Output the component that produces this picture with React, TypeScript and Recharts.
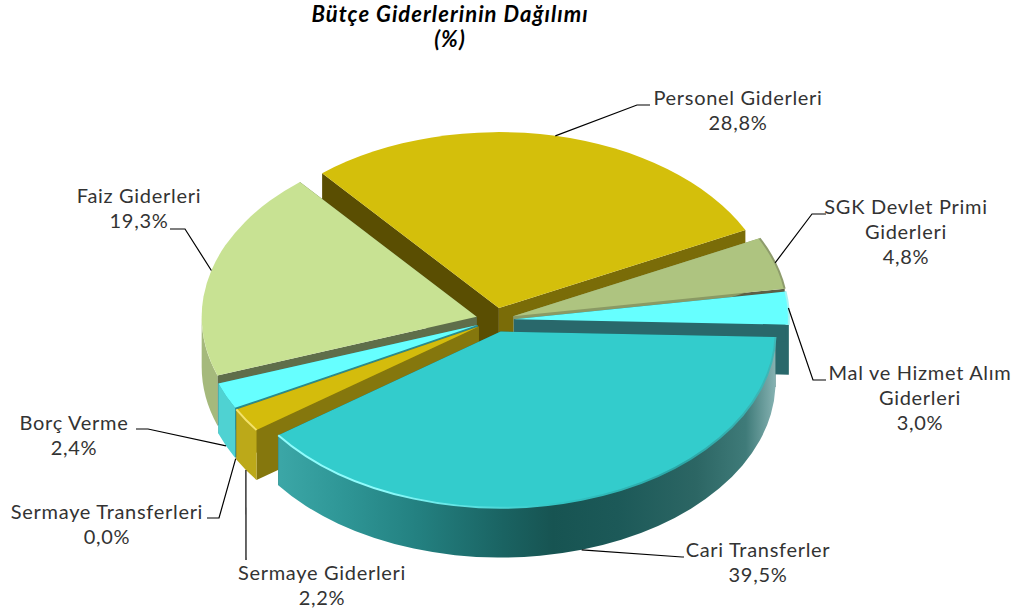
import React from 'react';
import { PieChart, Pie } from 'recharts';

const categories = ['Personel Giderleri', 'SGK Devlet Primi Giderleri', 'Mal ve Hizmet Alım Giderleri', 'Cari Transferler', 'Sermaye Giderleri', 'Sermaye Transferleri', 'Borç Verme', 'Faiz Giderleri'];
const values = [28.8, 4.8, 3.0, 39.5, 2.2, 0.0, 2.4, 19.3];
const valueLabels = ['28,8%', '4,8%', '3,0%', '39,5%', '2,2%', '0,0%', '2,4%', '19,3%'];
const labelLines = [
  ['Personel Giderleri'],
  ['SGK Devlet Primi', 'Giderleri'],
  ['Mal ve Hizmet Alım', 'Giderleri'],
  ['Cari Transferler'],
  ['Sermaye Giderleri'],
  ['Sermaye Transferleri'],
  ['Borç Verme'],
  ['Faiz Giderleri'],
];
const rows = categories.map((name, i) => ({ name, value: values[i] }));

// Back-to-front paint order of the slices
const paintOrder = [0, 1, 2, 7, 6, 5, 4, 3];

const TILT = 0.64;
const DEPTH = 50;
const EXPLODE = 19;
const FONT = 'Lato, sans-serif';

type Stop = [number, string];
const looks: { top: string; startWall: string; endWall: string; arc: Stop[]; rim?: Stop[] }[] = [
  { top: '#d4bf0b', startWall: '#5a4e02', endWall: '#7a6c08', arc: [[0, '#a89a10'], [1, '#a89a10']] },
  { top: '#aec480', startWall: '#8a9a64', endWall: '#5c5f45', arc: [[0, '#8a9a64'], [1, '#8a9a64']], rim: [[0, '#8e9c6c'], [1, '#8e9c6c']] },
  { top: '#66ffff', startWall: '#29686b', endWall: '#29686b', arc: [[0, '#29686b'], [1, '#29686b']], rim: [[0, '#a5f4f4'], [1, '#a5f4f4']] },
  {
    top: '#33cccc', startWall: '#1c5958', endWall: '#1c5958',
    arc: [[0, '#3ba6a6'], [0.12, '#2f9797'], [0.28, '#238080'], [0.45, '#1a6362'], [0.55, '#175452'], [0.68, '#1c5958'], [0.84, '#2c6664'], [0.94, '#3f7b79'], [1, '#86b2b2']],
    rim: [[0, '#8ffcfc'], [0.2, '#8ffcfc'], [0.42, '#52dcdc'], [0.55, '#33c6c6'], [0.8, '#2aa6a6'], [1, '#3db8b8']],
  },
  { top: '#d4bc0c', startWall: '#85770d', endWall: '#85770d', arc: [[0, '#bca919'], [1, '#c8b414']], rim: [[0, '#f4e26a'], [1, '#f4e26a']] },
  { top: '#d4bc0c', startWall: '#85770d', endWall: '#85770d', arc: [[0, '#b9a714'], [1, '#b9a714']] },
  { top: '#66ffff', startWall: '#2b8a8c', endWall: '#2b8a8c', arc: [[0, '#4fd2d2'], [1, '#4fd2d2']] },
  { top: '#c8e293', startWall: '#5f6e4a', endWall: '#5f6e4a', arc: [[0, '#a5b97c'], [1, '#a5b97c']] },
];

// Text anchor and leader-line elbow for each label
const labelLayout = [
  { x: 738, y: 105, ex: 637, ey: 105, tx: 650, ty: 105 },
  { x: 906, y: 214, ex: 812, ey: 214, tx: 826, ty: 214 },
  { x: 920, y: 380, ex: 813, ey: 380, tx: 826, ty: 380 },
  { x: 758, y: 557, ex: 682, ey: 557, tx: 684, ty: 557 },
  { x: 322, y: 580, ex: 246, ey: 560, tx: 246, ty: 560 },
  { x: 107, y: 519, ex: 219, ey: 518, tx: 207, ty: 518 },
  { x: 74, y: 430, ex: 148, ey: 429, tx: 136, ty: 429 },
  { x: 139, y: 203, ex: 185, ey: 229, tx: 170, ty: 229 },
];

const rad = (d: number) => (d * Math.PI) / 180;
const toTheta = (angle: number) => 90 - angle;

function apexOf(cx: number, cy: number, midTheta: number) {
  return {
    x: cx + EXPLODE * Math.sin(rad(midTheta)),
    y: cy - EXPLODE * TILT * Math.cos(rad(midTheta)),
  };
}
function rimPoint(ax: number, ay: number, r: number, theta: number) {
  return { x: ax + r * Math.sin(rad(theta)), y: ay - r * TILT * Math.cos(rad(theta)) };
}
const fx = (n: number) => n.toFixed(2);

function Slice(props: any) {
  const { cx, cy, outerRadius: r, startAngle, endAngle, order } = props;
  const t1 = toTheta(startAngle);
  const t2 = toTheta(endAngle);
  if (Math.abs(t2 - t1) < 0.01) return <g />;
  const a = apexOf(cx, cy, (t1 + t2) / 2);
  const p1 = rimPoint(a.x, a.y, r, t1);
  const p2 = rimPoint(a.x, a.y, r, t2);
  const ry = r * TILT;
  const look = looks[order];
  const large = t2 - t1 > 180 ? 1 : 0;
  const quad = (p: { x: number; y: number }) =>
    `M${fx(a.x)} ${fx(a.y)}L${fx(p.x)} ${fx(p.y)}L${fx(p.x)} ${fx(p.y + DEPTH)}L${fx(a.x)} ${fx(a.y + DEPTH)}Z`;
  const from = Math.max(t1, 90);
  const to = Math.min(t2, 270);
  let arcWall: React.ReactNode = null;
  const id = `wall-${order}`;
  const rimId = `rim-${order}`;
  const grad = (gid: string, stops: Stop[]) => (
    <linearGradient id={gid} gradientUnits="userSpaceOnUse" x1={a.x - r * 0.8} x2={a.x + r} y1={0} y2={0}>
      {stops.map(([o, c]) => (
        <stop key={o} offset={o} stopColor={c} />
      ))}
    </linearGradient>
  );
  if (to > from) {
    const q1 = rimPoint(a.x, a.y, r, from);
    const q2 = rimPoint(a.x, a.y, r, to);
    arcWall = (
      <path
        fill={`url(#${id})`}
        d={`M${fx(q1.x)} ${fx(q1.y)}A${r} ${fx(ry)} 0 0 1 ${fx(q2.x)} ${fx(q2.y)}L${fx(q2.x)} ${fx(q2.y + DEPTH)}A${r} ${fx(ry)} 0 0 0 ${fx(q1.x)} ${fx(q1.y + DEPTH)}Z`}
      />
    );
  }
  return (
    <g>
      <defs>
        {grad(id, look.arc)}
        {look.rim ? grad(rimId, look.rim) : null}
      </defs>
      <path d={quad(p2)} fill={look.endWall} />
      <path d={quad(p1)} fill={look.startWall} />
      {arcWall}
      <path
        fill={look.top}
        d={`M${fx(a.x)} ${fx(a.y)}L${fx(p1.x)} ${fx(p1.y)}A${r} ${fx(ry)} 0 ${large} 1 ${fx(p2.x)} ${fx(p2.y)}Z`}
      />
      {look.rim ? (
        <path
          fill="none"
          stroke={`url(#${rimId})`}
          strokeWidth={2}
          d={`M${fx(p1.x)} ${fx(p1.y)}A${r} ${fx(ry)} 0 ${large} 1 ${fx(p2.x)} ${fx(p2.y)}`}
        />
      ) : null}
    </g>
  );
}

function renderLabel(props: any) {
  const { cx, cy, outerRadius: r, midAngle, index } = props;
  const theta = toTheta(midAngle);
  const a = apexOf(cx, cy, theta);
  const p = rimPoint(a.x, a.y, r, theta);
  const norm = ((theta % 360) + 360) % 360;
  const py = norm > 90 && norm < 270 ? p.y + DEPTH : p.y;
  const l = labelLayout[index];
  const lines = [...labelLines[index], valueLabels[index]];
  return (
    <g key={index}>
      <polyline
        points={`${fx(p.x)},${fx(py)} ${l.ex},${l.ey} ${l.tx},${l.ty}`}
        fill="none"
        stroke="#000000"
        strokeWidth={1.2}
      />
      {lines.map((line, i) => (
        <text
          key={line}
          x={l.x}
          y={l.y + i * 25}
          textAnchor="middle"
          fontFamily={FONT}
          fontSize={20}
          letterSpacing={0.7}
          fill="#333333"
        >
          {line}
        </text>
      ))}
    </g>
  );
}

const titleStyle = { fontFamily: FONT, fontSize: 22, fontWeight: 700, fontStyle: 'italic' as const, letterSpacing: 1.05 };

export default function App() {
  return (
    <div style={{ position: 'absolute', left: 0, top: 0 }}>
      <PieChart width={1019} height={614} margin={{ top: 0, right: 0, bottom: 0, left: 0 }}>
        {paintOrder.map((order) => (
          <Pie
            key={order}
            data={rows}
            dataKey="value"
            nameKey="name"
            cx={495}
            cy={320}
            innerRadius={0}
            outerRadius={275}
            startAngle={130}
            endAngle={-230}
            stroke="none"
            isAnimationActive={false}
            label={false}
            labelLine={false}
            shape={(p: any) => {
              const name = p.name ?? p.payload?.name;
              return categories.indexOf(name) === order ? <Slice {...p} order={order} /> : <g />;
            }}
          />
        ))}
        <Pie
          data={rows}
          dataKey="value"
          nameKey="name"
          cx={495}
          cy={320}
          innerRadius={0}
          outerRadius={275}
          startAngle={130}
          endAngle={-230}
          stroke="none"
          isAnimationActive={false}
          labelLine={false}
          label={renderLabel}
          shape={() => <g />}
        />
        <text x={450} y={22} textAnchor="middle" fill="#000000" style={titleStyle}>
          Bütçe Giderlerinin Dağılımı
        </text>
        <text x={450} y={47} textAnchor="middle" fill="#000000" style={titleStyle}>
          (%)
        </text>
      </PieChart>
    </div>
  );
}
